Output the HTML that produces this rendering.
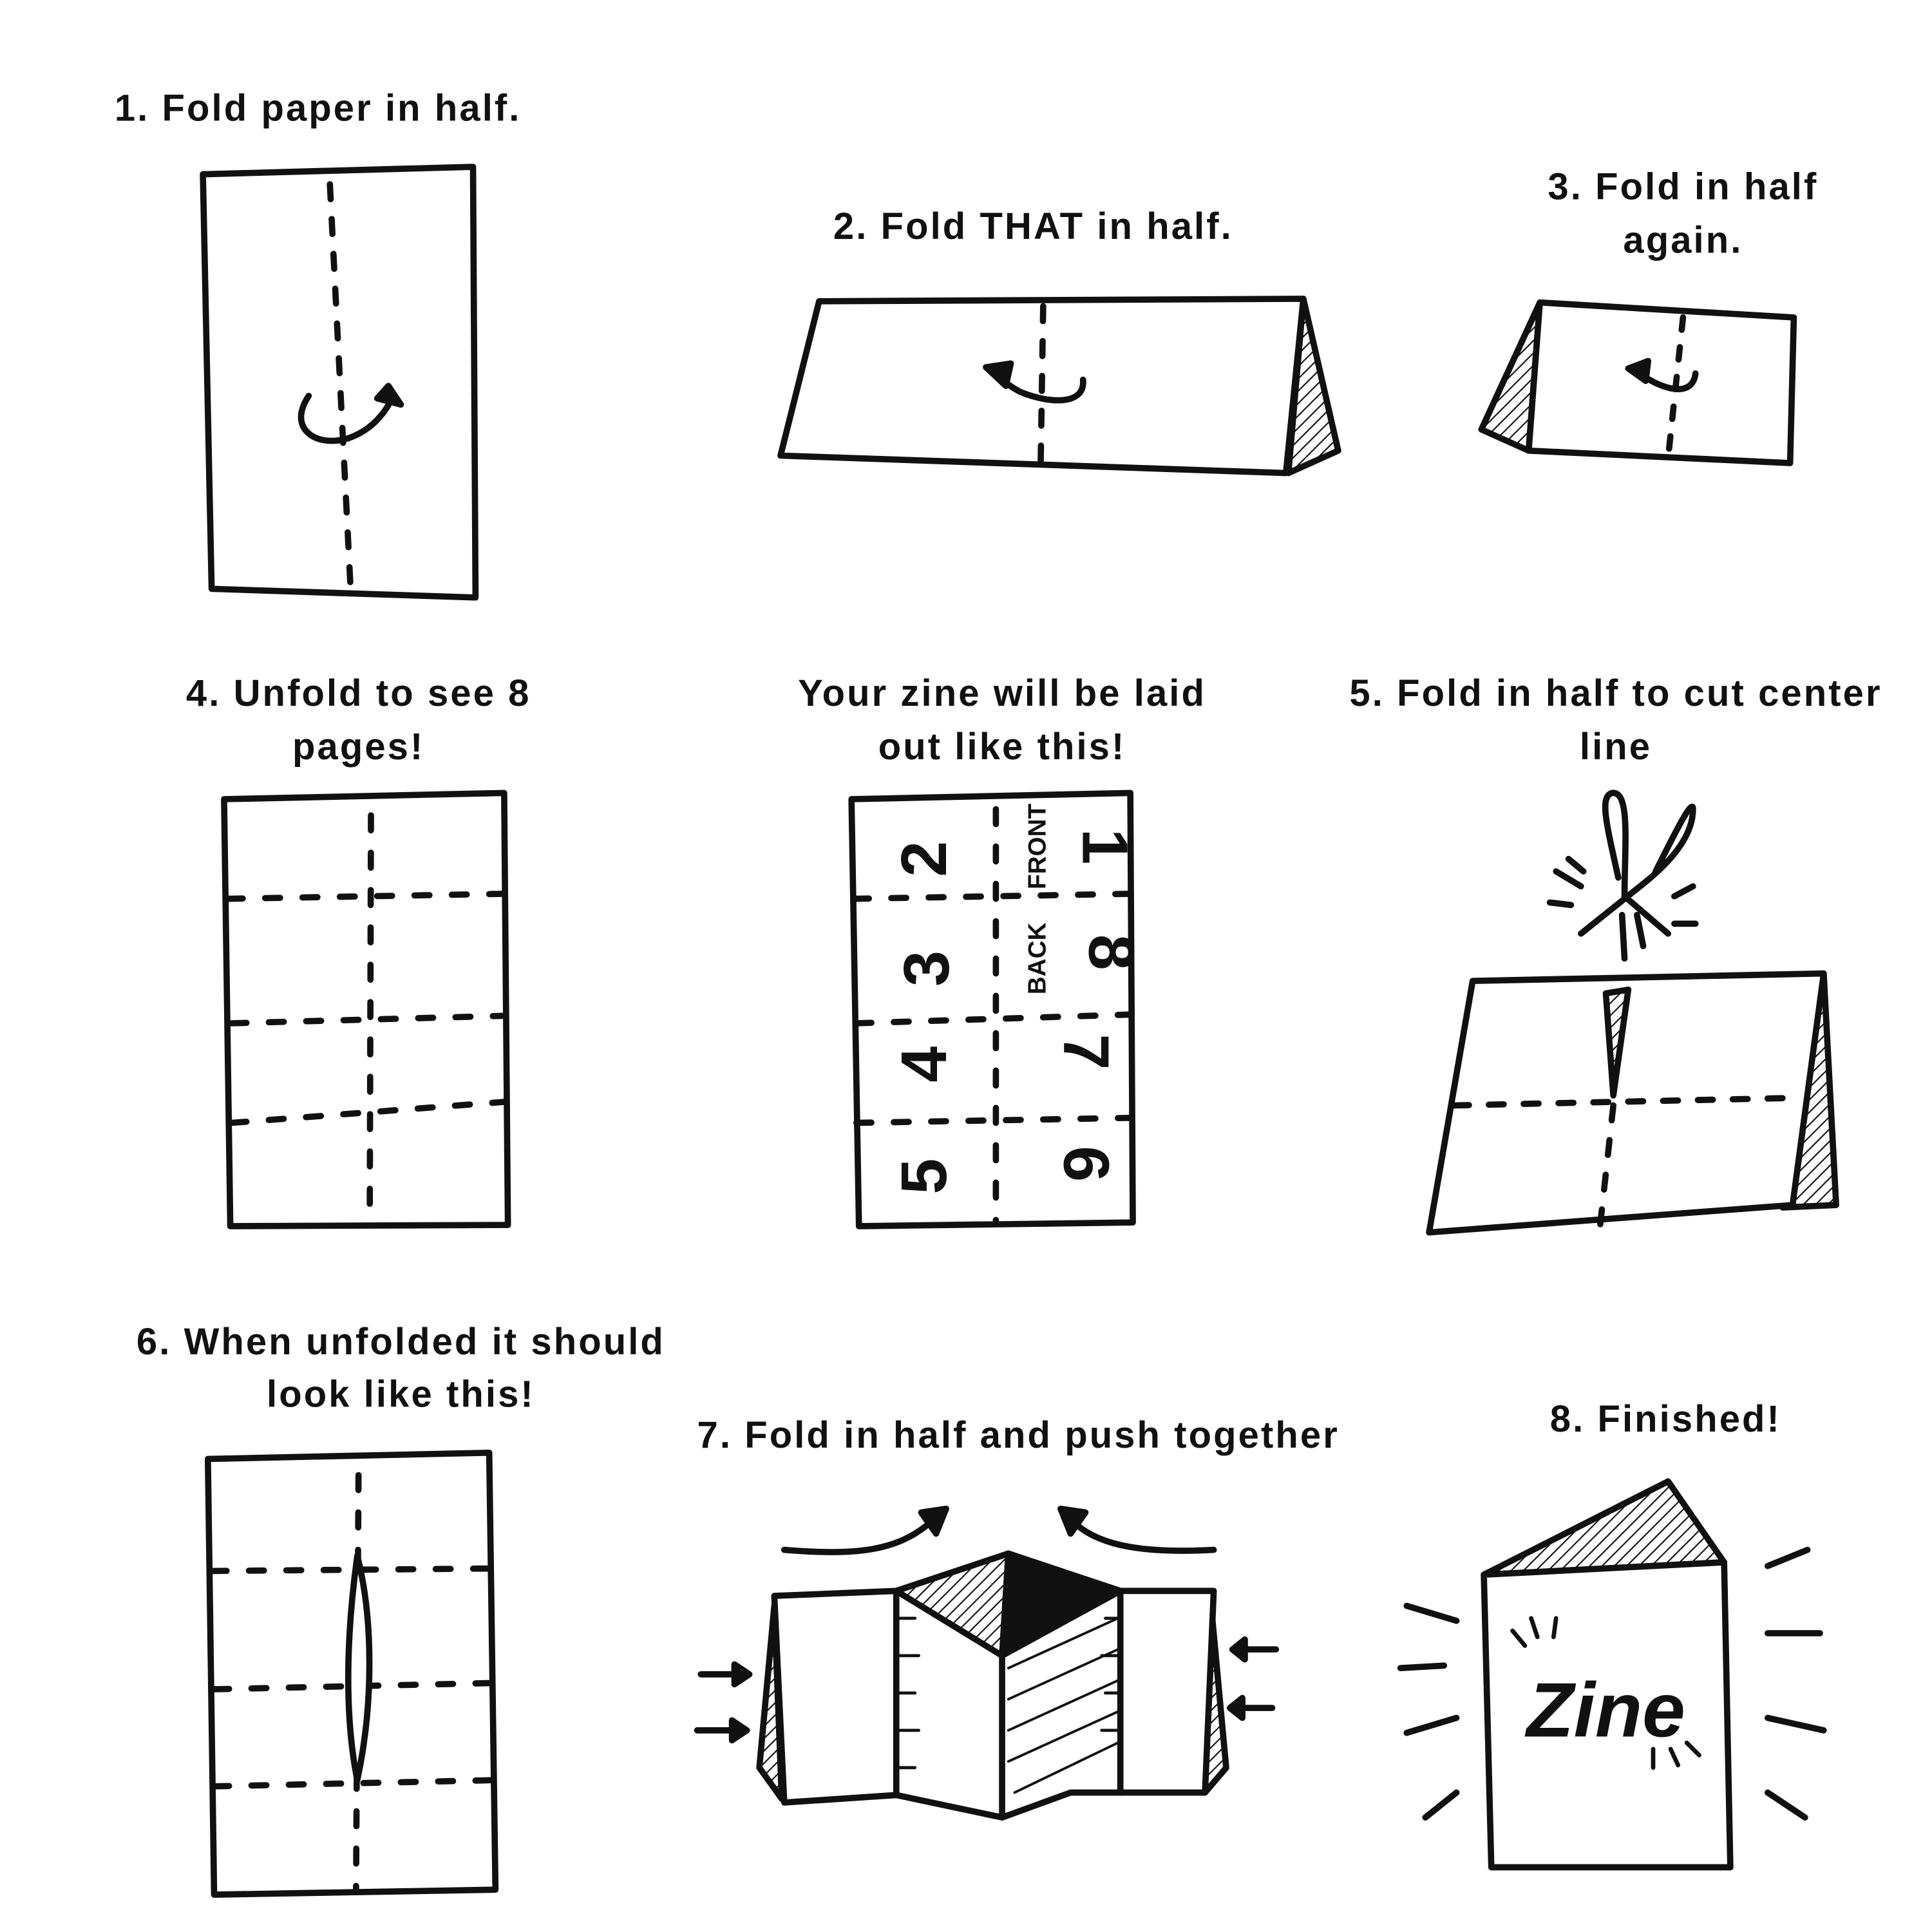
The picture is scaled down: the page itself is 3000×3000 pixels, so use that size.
<!DOCTYPE html>
<html><head><meta charset="utf-8"><style>
html,body{margin:0;padding:0;background:#fff}
svg{display:block}
text{font-family:"Liberation Sans",sans-serif;font-weight:bold;fill:#111}
</style></head><body>
<svg width="3000" height="3000" viewBox="0 0 1552 1552" xmlns="http://www.w3.org/2000/svg">
<defs>
<pattern id="h" patternUnits="userSpaceOnUse" width="7" height="7" patternTransform="rotate(45)">
<rect width="7" height="7" fill="#fff"/><line x1="0" y1="0" x2="0" y2="7" stroke="#111" stroke-width="2.2"/></pattern>
</defs>
<g font-size="30" letter-spacing="1.6">
<text x="92" y="97">1. Fold paper in half.</text>
<text x="830" y="192" text-anchor="middle">2. Fold THAT in half.</text>
<text x="1352" y="160" text-anchor="middle">3. Fold in half</text>
<text x="1352" y="203" text-anchor="middle">again.</text>
<text x="288" y="567" text-anchor="middle">4. Unfold to see 8</text>
<text x="288" y="610" text-anchor="middle">pages!</text>
<text x="805" y="567" text-anchor="middle">Your zine will be laid</text>
<text x="805" y="610" text-anchor="middle">out like this!</text>
<text x="1298" y="567" text-anchor="middle">5. Fold in half to cut center</text>
<text x="1298" y="610" text-anchor="middle">line</text>
<text x="322" y="1088" text-anchor="middle">6. When unfolded it should</text>
<text x="322" y="1130" text-anchor="middle">look like this!</text>
<text x="818" y="1163" text-anchor="middle">7. Fold in half and push together</text>
<text x="1338" y="1150" text-anchor="middle">8. Finished!</text>
</g>
<g fill="none" stroke="#111" stroke-width="5" stroke-linejoin="round" stroke-linecap="round">
<path d="M163,140 L380,134 L382,480 L170,473 Z" fill="#fff"/>
<path d="M265,148 L282,480" stroke-dasharray="12,16"/>
<path d="M248,318 C230,345 255,360 280,352 C300,345 310,330 315,320" />
<path d="M303,320 L322,325 L312,310 Z" fill="#111"/>
<path d="M1047,240 L1075,362 L1035,380 Z" fill="url(#h)"/>
<path d="M658,242 L1047,240 L1033,380 L627,366 Z" fill="#fff"/>
<path d="M838,246 L836,372" stroke-dasharray="12,16"/>
<path d="M870,305 C872,325 845,325 820,315 C810,310 805,305 802,300"/>
<path d="M792,295 L812,292 L808,310 Z" fill="#111"/>
<path d="M1237,243 L1190,345 L1228,362 Z" fill="url(#h)"/>
<path d="M1237,243 L1441,255 L1438,372 L1228,362 Z" fill="#fff"/>
<path d="M1352,255 L1340,368" stroke-dasharray="10,14"/>
<path d="M1362,300 C1360,318 1340,315 1320,302"/>
<path d="M1308,296 L1324,290 L1322,306 Z" fill="#111"/>
<path d="M180,642 L405,637 L408,984 L185,985 Z" fill="#fff"/>
<path d="M298,655 L297,983" stroke-dasharray="12,18"/>
<path d="M183,722 L405,718 M186,822 L406,816 M186,902 L407,885" stroke-dasharray="12,18"/>
<path d="M684,642 L908,637 L910,982 L690,985 Z" fill="#fff"/>
<path d="M800,650 L800,982" stroke-dasharray="12,18"/>
<path d="M686,722 L908,718 M688,822 L908,815 M688,902 L908,898" stroke-dasharray="12,18"/>
<path d="M1465,782 L1475,968 L1432,970 Z" fill="url(#h)"/>
<path d="M1183,788 L1465,782 L1440,968 L1148,990 Z" fill="#fff"/>
<path d="M1308,795 L1296,880 L1290,798 Z" fill="url(#h)"/>
<path d="M1296,888 L1285,988" stroke-dasharray="12,16"/>
<path d="M1168,888 L1440,882" stroke-dasharray="12,16"/>
<path d="M1300,705 C1290,660 1285,640 1295,637 C1310,635 1305,680 1305,720 L1340,750 M1330,700 C1345,670 1360,640 1360,650 C1360,670 1345,690 1320,710 L1270,750"/>
<path d="M1250,700 L1270,712 M1245,725 L1262,727 M1260,690 L1272,700 M1345,720 L1360,712 M1345,742 L1362,742 M1303,735 L1305,770 M1315,735 L1320,760"/>
<path d="M167,1172 L393,1167 L398,1518 L172,1522 Z" fill="#fff"/>
<path d="M288,1185 L286,1520" stroke-dasharray="12,18"/>
<path d="M170,1262 L396,1260 M172,1357 L396,1352 M172,1435 L398,1430" stroke-dasharray="12,18"/>
<path d="M287,1250 C280,1300 275,1370 287,1430 C300,1370 300,1300 287,1250 Z" fill="#fff"/>
<path d="M622,1290 L610,1420 L628,1445 Z" fill="url(#h)"/>
<path d="M972,1280 L985,1420 L968,1440 Z" fill="url(#h)"/>
<path d="M622,1282 L720,1278 L810,1248 L900,1278 L975,1278 L968,1440 L860,1440 L805,1460 L720,1442 L630,1448 Z" fill="#fff"/>
<path d="M720,1278 L810,1248 L805,1330 Z" fill="url(#h)"/>
<path d="M810,1248 L900,1278 L805,1330 Z" fill="#111"/>
<path d="M720,1280 L720,1440 M805,1330 L805,1460 M900,1280 L900,1440"/>
<path d="M810,1340 L898,1300 M810,1365 L898,1325 M810,1390 L898,1350 M810,1415 L898,1375 M815,1440 L898,1400" stroke-width="2"/>
<path d="M720,1300 L735,1300 M720,1330 L738,1330 M720,1360 L735,1360 M720,1390 L738,1390 M720,1420 L735,1420 M900,1300 L888,1300 M900,1330 L885,1330 M900,1360 L888,1360 M900,1390 L885,1390" stroke-width="2.5"/>
<path d="M630,1245 C690,1250 720,1245 745,1225" />
<path d="M740,1215 L760,1212 L752,1232 Z" fill="#111"/>
<path d="M975,1245 C920,1248 885,1242 865,1225"/>
<path d="M852,1212 L872,1215 L860,1232 Z" fill="#111"/>
<path d="M563,1345 L590,1345 M560,1390 L588,1390 M1000,1325 L1025,1325 M998,1372 L1022,1372" />
<path d="M590,1337 L602,1345 L590,1353 Z M588,1382 L600,1390 L588,1398 Z M1000,1317 L990,1325 L1000,1333 Z M998,1364 L988,1372 L998,1380 Z" fill="#111"/>
<path d="M1192,1265 L1340,1190 L1385,1255 Z" fill="url(#h)"/>
<path d="M1192,1265 L1385,1255 L1390,1500 L1198,1500 Z" fill="#fff"/>
<path d="M1130,1290 L1170,1302 M1125,1340 L1160,1338 M1130,1392 L1170,1380 M1145,1460 L1170,1440 M1420,1258 L1452,1245 M1420,1312 L1462,1312 M1420,1380 L1465,1390 M1420,1440 L1450,1460"/>
<path d="M1215,1310 L1225,1322 M1230,1300 L1235,1315 M1250,1300 L1248,1315 M1328,1405 L1328,1420 M1342,1405 L1348,1418 M1355,1400 L1365,1410" stroke-width="3.5"/>
</g>
<g font-size="52" font-family="Liberation Sans" font-weight="normal" fill="#111" text-anchor="middle">
<text x="745" y="705" transform="rotate(-90 745 690)">2</text>
<text x="745" y="795" transform="rotate(-90 745 778)">3</text>
<text x="745" y="870" transform="rotate(-90 745 855)">4</text>
<text x="745" y="960" transform="rotate(-90 745 945)">5</text>
<text x="870" y="680" transform="rotate(90 870 680)">1</text>
<text x="870" y="760" transform="rotate(90 870 765)">8</text>
<text x="855" y="845" transform="rotate(90 855 845)">7</text>
<text x="855" y="935" transform="rotate(90 855 935)">6</text>
<text x="835" y="685" font-size="20" transform="rotate(-90 835 680)">FRONT</text>
<text x="835" y="775" font-size="20" transform="rotate(-90 835 770)">BACK</text>
<text x="1290" y="1395" font-size="62" font-style="italic">Zine</text>
</g>
</svg>
</body></html>
